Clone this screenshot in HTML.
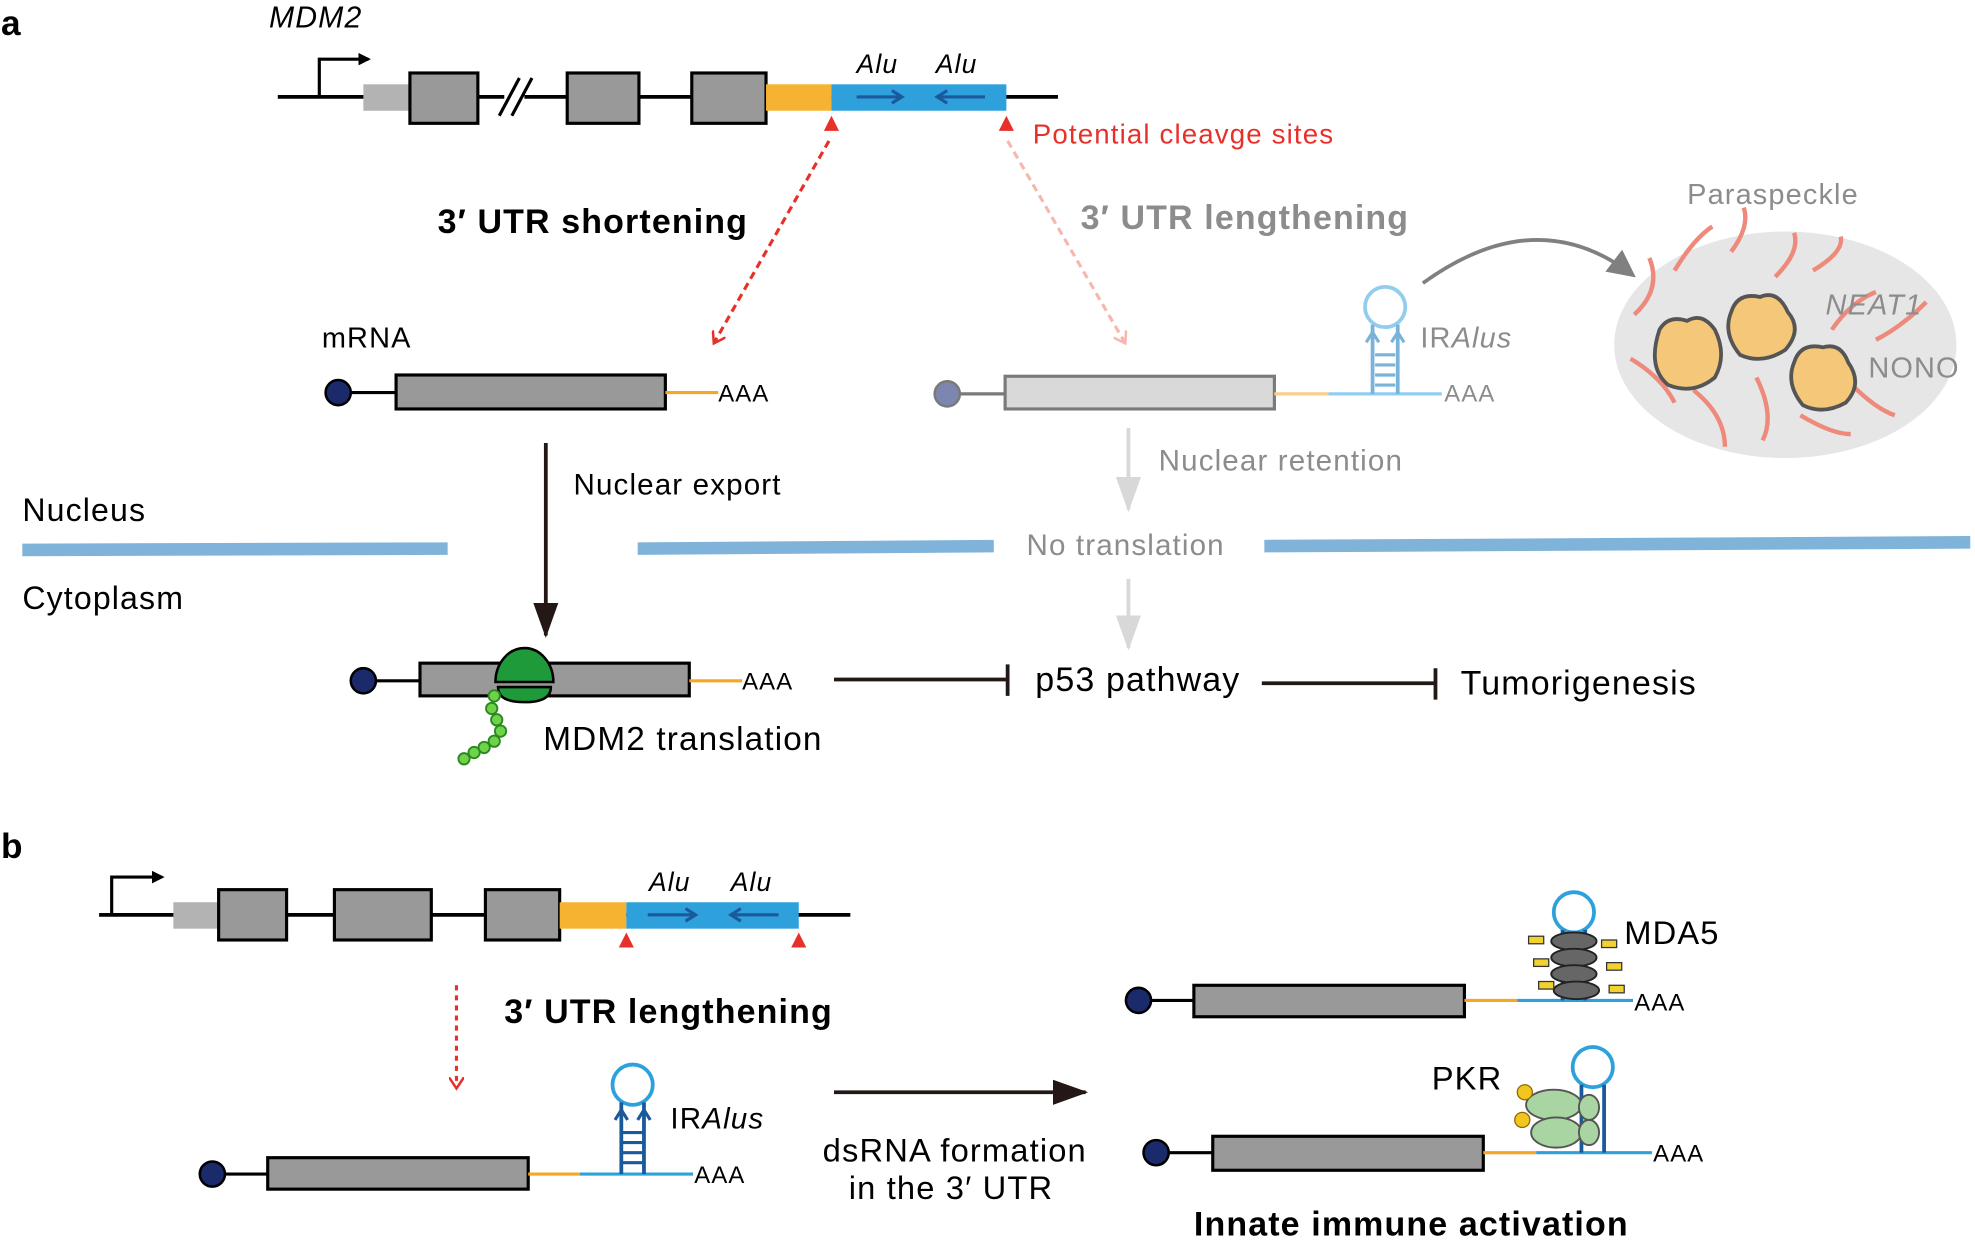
<!DOCTYPE html>
<html><head><meta charset="utf-8"><style>html,body{margin:0;padding:0;background:#fff}svg{display:block}text{font-family:"Liberation Sans",Arial,sans-serif;letter-spacing:0.9px}</style></head>
<body>
<svg width="1975" height="1242" viewBox="0 0 1568 987" xmlns="http://www.w3.org/2000/svg">
<defs>
<marker id="ab" markerWidth="10" markerHeight="10" refX="8" refY="5" orient="auto" markerUnits="userSpaceOnUse"><path d="M0,0 L10,5 L0,10 z" fill="#000"/></marker>
<marker id="abig" markerWidth="30" markerHeight="20" refX="26" refY="10" orient="auto" markerUnits="userSpaceOnUse"><path d="M0,0 L28,10 L0,20 z" fill="#231815"/></marker>
<marker id="ag" markerWidth="30" markerHeight="20" refX="26" refY="10" orient="auto" markerUnits="userSpaceOnUse"><path d="M0,0 L28,10 L0,20 z" fill="#d8d8d8"/></marker>
<marker id="agr" markerWidth="22" markerHeight="22" refX="18" refY="11" orient="auto" markerUnits="userSpaceOnUse"><path d="M0,0 L22,11 L0,22 z" fill="#808080"/></marker>
<marker id="ar" markerWidth="12" markerHeight="12" refX="8" refY="6" orient="auto" markerUnits="userSpaceOnUse"><path d="M0,0 L9,6 L0,12" fill="none" stroke="#e8302a" stroke-width="2"/></marker>
<marker id="ap" markerWidth="12" markerHeight="12" refX="8" refY="6" orient="auto" markerUnits="userSpaceOnUse"><path d="M0,0 L9,6 L0,12" fill="none" stroke="#f6b8ae" stroke-width="2"/></marker>
</defs>

<text x="0" y="28" font-size="28" font-weight="bold">a</text>
<text x="213" y="22" font-size="24" font-style="italic">MDM2</text>
<line x1="220" y1="77" x2="840" y2="77" stroke="#000" stroke-width="3"/>
<path d="M253,77 V47 H292" fill="none" stroke="#000" stroke-width="2.5" marker-end="url(#ab)"/>
<rect x="288" y="67" width="37" height="21" fill="#b3b3b3"/>
<rect x="325" y="58" width="54" height="40" fill="#999" stroke="#000" stroke-width="2.5"/>
<rect x="450" y="58" width="57" height="40" fill="#999" stroke="#000" stroke-width="2.5"/>
<rect x="549" y="58" width="59" height="40" fill="#999" stroke="#000" stroke-width="2.5"/>
<rect x="400" y="70" width="16" height="14" fill="#fff"/>
<line x1="396" y1="92" x2="412" y2="62" stroke="#000" stroke-width="2.5"/><line x1="406" y1="92" x2="422" y2="62" stroke="#000" stroke-width="2.5"/>
<rect x="608" y="67" width="52" height="21" fill="#f6b331"/>
<rect x="660" y="67" width="139" height="21" fill="#2ea1dc"/>
<path d="M680,77 H716 M708,72 L716,77 L708,82" fill="none" stroke="#1a5a9a" stroke-width="2.5"/>
<path d="M782,77 H744 M752,72 L744,77 L752,82" fill="none" stroke="#1a5a9a" stroke-width="2.5"/>
<text x="680" y="58" font-size="21" font-style="italic">Alu</text>
<text x="743" y="58" font-size="21" font-style="italic">Alu</text>
<path d="M654,104 L660,92 L666,104 z" fill="#e8302a"/>
<path d="M793,104 L799,92 L805,104 z" fill="#e8302a"/>
<text x="820" y="114" font-size="22" fill="#e8302a">Potential cleavge sites</text>
<line x1="658" y1="112" x2="567" y2="272" stroke="#e8302a" stroke-width="2.5" stroke-dasharray="6,4" marker-end="url(#ar)"/>
<line x1="800" y1="112" x2="893" y2="272" stroke="#f6b8ae" stroke-width="2.5" stroke-dasharray="6,4" marker-end="url(#ap)"/>
<text x="347" y="185" font-size="27" font-weight="bold">3′ UTR shortening</text>
<text x="858" y="182" font-size="27" font-weight="bold" fill="#8c8c8c">3′ UTR lengthening</text>

<text x="255" y="276" font-size="23">mRNA</text>
<line x1="268" y1="312" x2="314" y2="312" stroke="#000" stroke-width="2.5"/>
<circle cx="268" cy="312" r="10" fill="#1b2a6b" stroke="#000" stroke-width="2"/>
<rect x="314" y="298" width="214" height="27" fill="#999" stroke="#000" stroke-width="2.5"/>
<line x1="528" y1="312" x2="570" y2="312" stroke="#f6a623" stroke-width="2.5"/>
<text x="570" y="319" font-size="19">AAA</text>

<line x1="752" y1="313" x2="798" y2="313" stroke="#7a7a7a" stroke-width="2.5"/>
<circle cx="752" cy="313" r="10" fill="#7c86b0" stroke="#7a7a7a" stroke-width="2"/>
<rect x="798" y="299" width="214" height="26" fill="#d9d9d9" stroke="#7a7a7a" stroke-width="2.5"/>
<line x1="1012" y1="313" x2="1055" y2="313" stroke="#f9cf8a" stroke-width="2.5"/>
<line x1="1055" y1="313" x2="1145" y2="313" stroke="#92cdf0" stroke-width="2.5"/>
<circle cx="1100" cy="244" r="16" fill="none" stroke="#92cdf0" stroke-width="3"/>
<path d="M1090,258 V313 M1110,258 V313" stroke="#7ab3d9" stroke-width="3"/>
<path d="M1090,264 l-5,8 M1090,264 l5,8 M1110,264 l-5,8 M1110,264 l5,8" stroke="#7ab3d9" stroke-width="2.5"/>
<path d="M1092,282 H1108 M1092,290 H1108 M1092,298 H1108 M1092,306 H1108" stroke="#7ab3d9" stroke-width="2.5"/>
<text x="1147" y="319" font-size="19" fill="#8c8c8c">AAA</text>
<text x="1128" y="276" font-size="23" fill="#8c8c8c">IR<tspan font-style="italic">Alus</tspan></text>
<path d="M1130,225 Q1220,160 1296,218" fill="none" stroke="#808080" stroke-width="3" marker-end="url(#agr)"/>

<text x="1340" y="162" font-size="23" fill="#8c8c8c">Paraspeckle</text>
<ellipse cx="1418" cy="274" rx="136" ry="90" fill="#e6e6e6"/>
<g fill="none" stroke="#ee8a7c" stroke-width="3.5">
<path d="M1298,250 Q1320,230 1310,205"/><path d="M1330,215 Q1345,190 1360,180"/><path d="M1375,200 Q1390,180 1385,165"/>
<path d="M1410,220 Q1430,200 1425,185"/><path d="M1440,215 Q1465,200 1462,188"/><path d="M1295,285 Q1320,300 1330,320"/>
<path d="M1345,310 Q1370,330 1370,355"/><path d="M1395,300 Q1410,330 1400,350"/><path d="M1430,330 Q1455,345 1470,345"/>
<path d="M1470,305 Q1490,325 1505,330"/><path d="M1490,270 Q1510,260 1530,240"/><path d="M1455,262 Q1470,240 1490,232"/>
</g>
<g fill="#f5c778" stroke="#555" stroke-width="3">
<path d="M1318,262 Q1325,250 1340,255 Q1352,248 1362,262 Q1372,282 1362,300 Q1345,314 1325,306 Q1308,292 1318,262 z"/>
<path d="M1375,248 Q1380,232 1398,236 Q1412,230 1420,248 Q1432,262 1418,278 Q1400,290 1382,282 Q1368,265 1375,248 z"/>
<path d="M1425,288 Q1430,272 1448,276 Q1462,272 1468,288 Q1480,305 1466,320 Q1448,330 1432,322 Q1418,305 1425,288 z"/>
</g>
<text x="1450" y="250" font-size="23" font-style="italic" fill="#8c8c8c">NEAT1</text>
<text x="1484" y="300" font-size="23" fill="#8c8c8c">NONO</text>

<line x1="433" y1="352" x2="433" y2="505" stroke="#231815" stroke-width="3" marker-end="url(#abig)"/>
<text x="455" y="393" font-size="23.5">Nuclear export</text>
<line x1="896" y1="340" x2="896" y2="405" stroke="#d8d8d8" stroke-width="3" marker-end="url(#ag)"/>
<text x="920" y="374" font-size="23.5" fill="#8c8c8c">Nuclear retention</text>
<text x="17" y="414" font-size="25.5">Nucleus</text>
<text x="17" y="484" font-size="25.5">Cytoplasm</text>
<path d="M17,437 L355,436" stroke="#7fb3d9" stroke-width="10"/>
<path d="M506,436 L789,434" stroke="#7fb3d9" stroke-width="10"/>
<path d="M1004,434 L1565,431" stroke="#7fb3d9" stroke-width="10"/>
<text x="815" y="441" font-size="23.5" fill="#8c8c8c">No translation</text>
<line x1="896" y1="460" x2="896" y2="515" stroke="#d8d8d8" stroke-width="3" marker-end="url(#ag)"/>

<line x1="288" y1="541" x2="333" y2="541" stroke="#000" stroke-width="2.5"/>
<circle cx="288" cy="541" r="10" fill="#1b2a6b" stroke="#000" stroke-width="2"/>
<rect x="333" y="527" width="214" height="26" fill="#999" stroke="#000" stroke-width="2.5"/>
<line x1="547" y1="541" x2="589" y2="541" stroke="#f6a623" stroke-width="2.5"/>
<text x="589" y="548" font-size="19">AAA</text>
<path d="M393,542 A23,27 0 0 1 439,542 z" fill="#1e9a3a" stroke="#000" stroke-width="2"/>
<path d="M395,546 H437 Q437,558 416,558 Q395,558 395,546 z" fill="#1e9a3a" stroke="#000" stroke-width="2"/>
<g fill="#6fd34a" stroke="#2a8a1f" stroke-width="1.5">
<circle cx="392" cy="553" r="4.5"/><circle cx="390" cy="563" r="4.5"/><circle cx="394" cy="572" r="4.5"/><circle cx="397" cy="581" r="4.5"/><circle cx="392" cy="589" r="4.5"/><circle cx="384" cy="594" r="4.5"/><circle cx="376" cy="598" r="4.5"/><circle cx="368" cy="603" r="4.5"/>
</g>
<text x="431" y="596" font-size="26.5">MDM2 translation</text>
<path d="M662,540 H800 M800,528 V553" stroke="#231815" stroke-width="3"/>
<text x="822" y="549" font-size="27">p53 pathway</text>
<path d="M1002,543 H1140 M1140,531 V556" stroke="#231815" stroke-width="3"/>
<text x="1160" y="552" font-size="27">Tumorigenesis</text>

<text x="0" y="682" font-size="28" font-weight="bold">b</text>
<line x1="78" y1="727" x2="675" y2="727" stroke="#000" stroke-width="3"/>
<path d="M88,727 V697 H128" fill="none" stroke="#000" stroke-width="2.5" marker-end="url(#ab)"/>
<rect x="137" y="717" width="36" height="21" fill="#b3b3b3"/>
<rect x="173" y="707" width="54" height="40" fill="#999" stroke="#000" stroke-width="2.5"/>
<rect x="265" y="707" width="77" height="40" fill="#999" stroke="#000" stroke-width="2.5"/>
<rect x="385" y="707" width="59" height="40" fill="#999" stroke="#000" stroke-width="2.5"/>
<rect x="444" y="717" width="53" height="21" fill="#f6b331"/>
<rect x="497" y="717" width="137" height="21" fill="#2ea1dc"/>
<path d="M514,727 H552 M544,722 L552,727 L544,732" fill="none" stroke="#1a5a9a" stroke-width="2.5"/>
<path d="M618,727 H580 M588,722 L580,727 L588,732" fill="none" stroke="#1a5a9a" stroke-width="2.5"/>
<text x="515" y="708" font-size="21" font-style="italic">Alu</text>
<text x="580" y="708" font-size="21" font-style="italic">Alu</text>
<path d="M491,753 L497,741 L503,753 z" fill="#e8302a"/>
<path d="M628,753 L634,741 L640,753 z" fill="#e8302a"/>
<text x="400" y="813" font-size="27" font-weight="bold">3′ UTR lengthening</text>
<line x1="362" y1="783" x2="362" y2="864" stroke="#e8302a" stroke-width="2.5" stroke-dasharray="4,4" marker-end="url(#ar)"/>

<line x1="168" y1="933" x2="212" y2="933" stroke="#000" stroke-width="2.5"/>
<circle cx="168" cy="933" r="10" fill="#1b2a6b" stroke="#000" stroke-width="2"/>
<rect x="212" y="920" width="207" height="25" fill="#999" stroke="#000" stroke-width="2.5"/>
<line x1="419" y1="933" x2="460" y2="933" stroke="#f6a623" stroke-width="2.5"/>
<line x1="460" y1="933" x2="550" y2="933" stroke="#2ea1dc" stroke-width="2.5"/>
<circle cx="502" cy="862" r="16" fill="none" stroke="#2ea1dc" stroke-width="3"/>
<path d="M493,876 V933 M511,876 V933" stroke="#1a5a9a" stroke-width="3"/>
<path d="M493,882 l-5,8 M493,882 l5,8 M511,882 l-5,8 M511,882 l5,8" stroke="#1a5a9a" stroke-width="2.5"/>
<path d="M494,900 H510 M494,908 H510 M494,916 H510 M494,924 H510" stroke="#1a5a9a" stroke-width="2.5"/>
<text x="551" y="940" font-size="19">AAA</text>
<text x="532" y="897" font-size="23.5">IR<tspan font-style="italic">Alus</tspan></text>
<line x1="662" y1="868" x2="862" y2="868" stroke="#231815" stroke-width="3" marker-end="url(#abig)"/>
<text x="758" y="923" font-size="26" text-anchor="middle">dsRNA formation</text>
<text x="755" y="953" font-size="26" text-anchor="middle">in the 3′ UTR</text>

<line x1="904" y1="795" x2="948" y2="795" stroke="#000" stroke-width="2.5"/>
<circle cx="904" cy="795" r="10" fill="#1b2a6b" stroke="#000" stroke-width="2"/>
<rect x="948" y="783" width="215" height="25" fill="#999" stroke="#000" stroke-width="2.5"/>
<line x1="1163" y1="795" x2="1205" y2="795" stroke="#f6a623" stroke-width="2.5"/>
<line x1="1205" y1="795" x2="1297" y2="795" stroke="#2ea1dc" stroke-width="2.5"/>
<circle cx="1250" cy="725" r="16" fill="none" stroke="#2ea1dc" stroke-width="3"/>
<path d="M1241,739 V795 M1259,739 V795" stroke="#1a5a9a" stroke-width="3"/>
<g fill="#666" stroke="#222" stroke-width="1.5">
<ellipse cx="1250" cy="748" rx="18" ry="7"/><ellipse cx="1250" cy="761" rx="18" ry="7"/><ellipse cx="1250" cy="774" rx="18" ry="7"/><ellipse cx="1252" cy="787" rx="18" ry="7"/>
</g>
<g fill="#f2d230" stroke="#333" stroke-width="1">
<rect x="1214" y="744" width="12" height="6"/><rect x="1272" y="747" width="12" height="6"/><rect x="1218" y="762" width="12" height="6"/><rect x="1276" y="765" width="12" height="6"/><rect x="1222" y="780" width="12" height="6"/><rect x="1278" y="783" width="12" height="6"/>
</g>
<text x="1298" y="803" font-size="19">AAA</text>
<text x="1290" y="750" font-size="26">MDA5</text>

<line x1="918" y1="916" x2="963" y2="916" stroke="#000" stroke-width="2.5"/>
<circle cx="918" cy="916" r="10" fill="#1b2a6b" stroke="#000" stroke-width="2"/>
<rect x="963" y="903" width="215" height="27" fill="#999" stroke="#000" stroke-width="2.5"/>
<line x1="1178" y1="916" x2="1220" y2="916" stroke="#f6a623" stroke-width="2.5"/>
<line x1="1220" y1="916" x2="1312" y2="916" stroke="#2ea1dc" stroke-width="2.5"/>
<circle cx="1265" cy="848" r="16" fill="none" stroke="#2ea1dc" stroke-width="3"/>
<path d="M1256,862 V916 M1274,862 V916" stroke="#1a5a9a" stroke-width="3"/>
<g fill="#a8d5a2" stroke="#555" stroke-width="1.5">
<ellipse cx="1234" cy="878" rx="22" ry="12"/><ellipse cx="1236" cy="900" rx="20" ry="12"/>
<ellipse cx="1262" cy="880" rx="8" ry="10"/><ellipse cx="1262" cy="900" rx="8" ry="10"/>
</g>
<circle cx="1211" cy="868" r="6" fill="#f2c520" stroke="#8a6a00"/><circle cx="1209" cy="890" r="6" fill="#f2c520" stroke="#8a6a00"/>
<text x="1313" y="923" font-size="19">AAA</text>
<text x="1137" y="866" font-size="26">PKR</text>
<text x="948" y="982" font-size="27" font-weight="bold">Innate immune activation</text>
</svg>
</body></html>
